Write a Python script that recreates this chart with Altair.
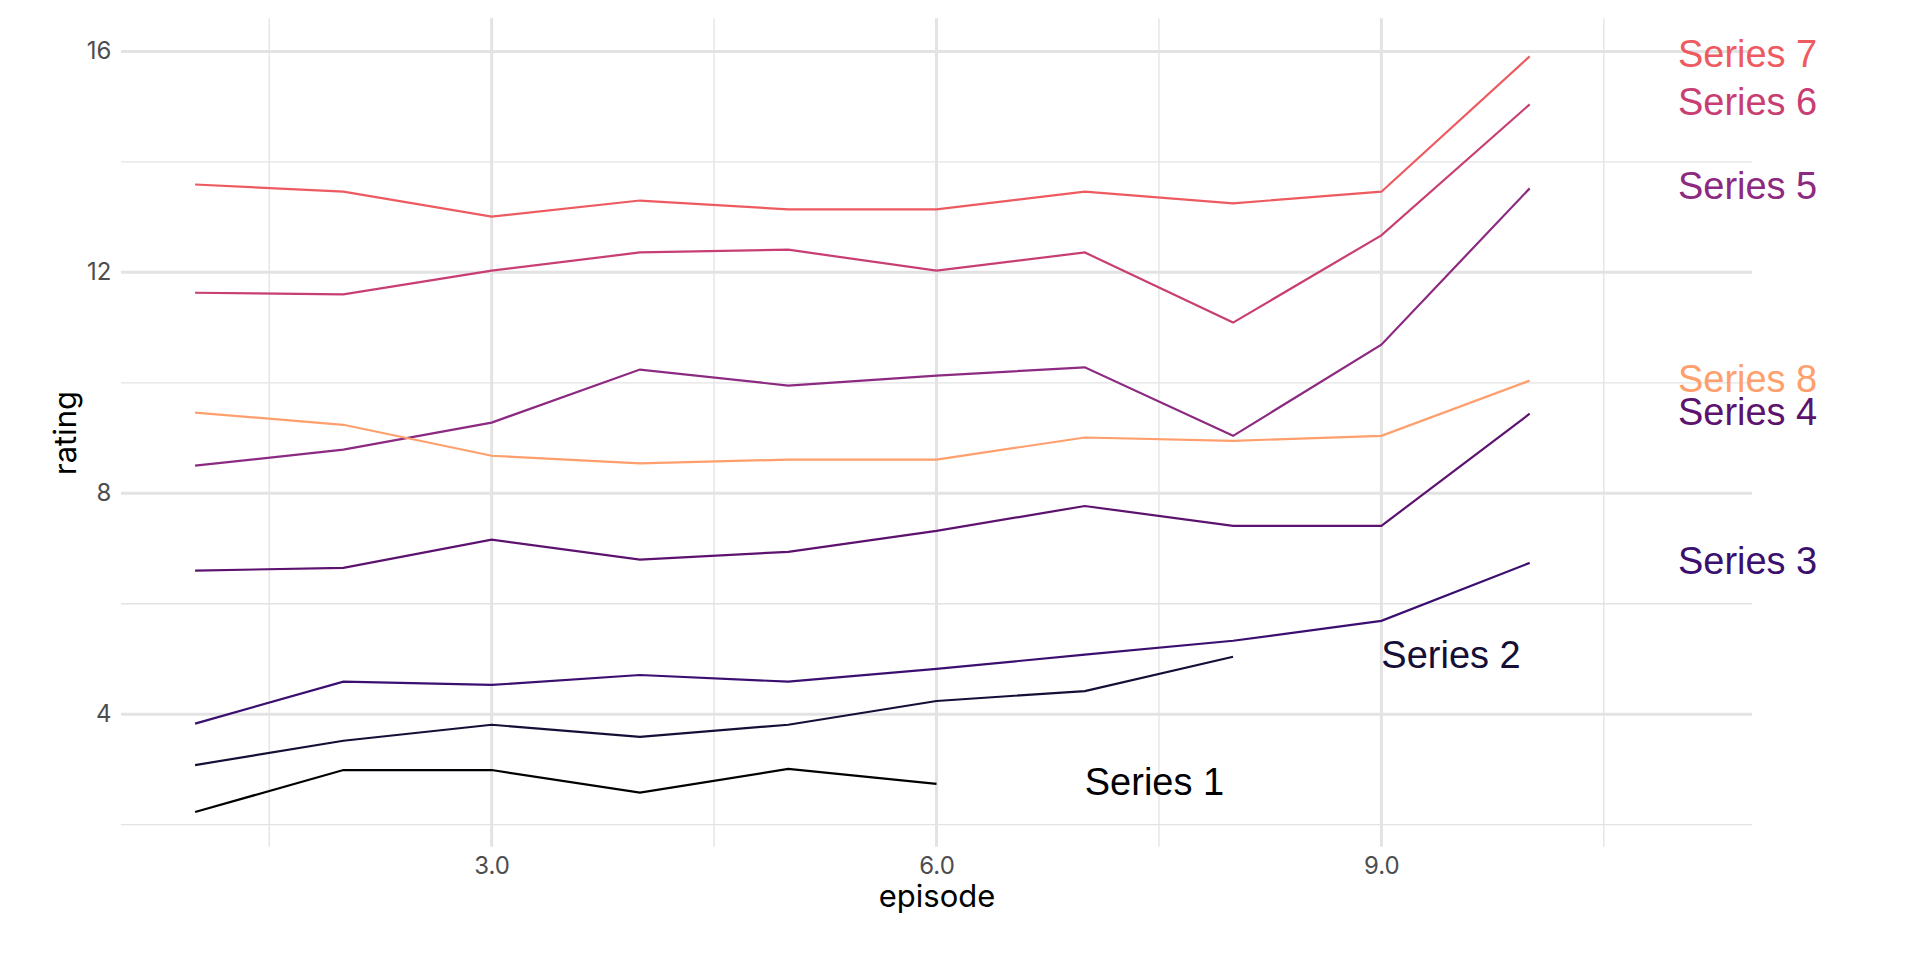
import pandas as pd
import altair as alt

series = ["Series 1", "Series 2", "Series 3", "Series 4",
          "Series 5", "Series 6", "Series 7", "Series 8"]
colors = ["#000004", "#150e37", "#3b0f70", "#5c126e",
          "#8c2981", "#c83e73", "#ed5a5f", "#fe9f6d"]

ratings = {
    "Series 1": [2.23, 2.99, 2.99, 2.58, 3.01, 2.74],
    "Series 2": [3.08, 3.52, 3.81, 3.59, 3.81, 4.24, 4.42, 5.04],
    "Series 3": [3.83, 4.59, 4.53, 4.71, 4.59, 4.82, 5.08, 5.33, 5.69, 6.74],
    "Series 4": [6.60, 6.65, 7.16, 6.80, 6.94, 7.32, 7.77, 7.41, 7.41, 9.44],
    "Series 5": [8.50, 8.79, 9.28, 10.24, 9.95, 10.13, 10.28, 9.04, 10.69, 13.52],
    "Series 6": [11.63, 11.60, 12.03, 12.36, 12.41, 12.03, 12.36, 11.09, 12.67, 15.04],
    "Series 7": [13.59, 13.46, 13.01, 13.30, 13.14, 13.14, 13.46, 13.25, 13.46, 15.91],
    "Series 8": [9.46, 9.24, 8.68, 8.54, 8.61, 8.61, 9.01, 8.95, 9.04, 10.04],
}

x_major = [3, 6, 9]
x_minor = [1.5, 4.5, 7.5, 10.5]
y_major = [4, 8, 12, 16]
y_minor = [2, 6, 10, 14]

rows = []
labels = []
for s in series:
    vals = ratings[s]
    for i, v in enumerate(vals):
        rows.append({"series": s, "episode": i + 1, "rating": v})
    labels.append({"series": s, "episode": len(vals) + 1, "rating": vals[-1]})
df = pd.DataFrame(rows)
lab = pd.DataFrame(labels)

xs = alt.Scale(domain=[0.5, 11.5], nice=False, zero=False)
ys = alt.Scale(domain=[1.6, 16.6], nice=False, zero=False)
cs = alt.Scale(domain=series, range=colors)
grid = "#e3e3e3"

vmin = alt.Chart(pd.DataFrame({"v": x_minor})).mark_rule(color=grid, strokeWidth=1.3).encode(
    x=alt.X("v:Q", scale=xs))
vmaj = alt.Chart(pd.DataFrame({"v": x_major})).mark_rule(color=grid, strokeWidth=3).encode(
    x=alt.X("v:Q", scale=xs))
hmin = alt.Chart(pd.DataFrame({"v": y_minor})).mark_rule(color=grid, strokeWidth=1.3).encode(
    y=alt.Y("v:Q", scale=ys))
hmaj = alt.Chart(pd.DataFrame({"v": y_major})).mark_rule(color=grid, strokeWidth=3).encode(
    y=alt.Y("v:Q", scale=ys))

lines = alt.Chart(df).mark_line(strokeWidth=2.2).encode(
    x=alt.X("episode:Q", scale=xs, title="episode",
            axis=alt.Axis(values=x_major, grid=False, domain=False, ticks=False,
                          labelFontSize=24, labelColor="#4d4d4d", titleFontSize=31,
                          titleFontWeight="normal", titleColor="#000", labelPadding=8)),
    y=alt.Y("rating:Q", scale=ys, title="rating",
            axis=alt.Axis(values=y_major, grid=False, domain=False, ticks=False,
                          labelFontSize=24, labelColor="#4d4d4d", titleFontSize=31,
                          titleFontWeight="normal", titleColor="#000", labelPadding=10)),
    color=alt.Color("series:N", scale=cs, legend=None),
    detail="series:N",
)

text = alt.Chart(lab).mark_text(align="left", baseline="middle", fontSize=38,
                                font="Liberation Sans").encode(
    x=alt.X("episode:Q", scale=xs),
    y=alt.Y("rating:Q", scale=ys),
    text="series:N",
    color=alt.Color("series:N", scale=cs, legend=None),
)

chart = alt.layer(vmin, vmaj, hmin, hmaj, lines, text).properties(
    width=1632, height=829,
    autosize=alt.AutoSizeParams(type="none"),
    padding={"left": 113, "top": 10, "right": 160, "bottom": 110},
).configure_view(stroke=None, clip=False).configure_axis(
    labelFont="Inter", titleFont="Inter")

chart.save("out.html", embed_options={"renderer": "svg", "actions": False})
